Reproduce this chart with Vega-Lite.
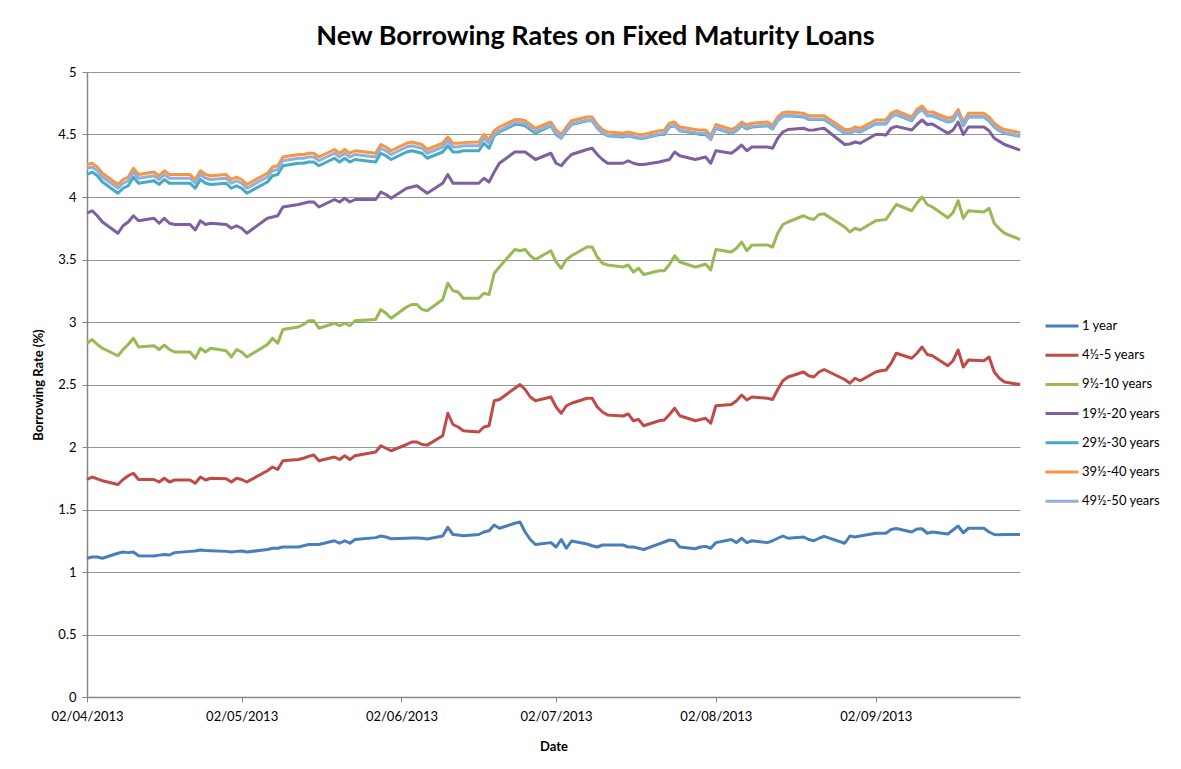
{
"$schema": "https://vega.github.io/schema/vega-lite/v6.json",
"width": 933, "height": 625,
"autosize": {"type": "none"},
"padding": {"left": 87, "top": 72, "right": 161, "bottom": 72},
"background": "white",
"title": {"text": "New Borrowing Rates on Fixed Maturity Loans", "font": "Lato", "fontSize": 27, "fontWeight": "bold", "color": "#000000", "anchor": "middle", "dx": 42, "offset": 15},
"data": {"values": [
{"date":"2013-04-02","1 year":1.11,"4½-5 years":1.74,"9½-10 years":2.83,"19½-20 years":3.87,"29½-30 years":4.18,"39½-40 years":4.26,"49½-50 years":4.23},
{"date":"2013-04-03","1 year":1.12,"4½-5 years":1.76,"9½-10 years":2.86,"19½-20 years":3.89,"29½-30 years":4.20,"39½-40 years":4.27,"49½-50 years":4.24},
{"date":"2013-04-04","1 year":1.12,"4½-5 years":1.745,"9½-10 years":2.82,"19½-20 years":3.85,"29½-30 years":4.17,"39½-40 years":4.24,"49½-50 years":4.21},
{"date":"2013-04-05","1 year":1.11,"4½-5 years":1.73,"9½-10 years":2.79,"19½-20 years":3.80,"29½-30 years":4.12,"39½-40 years":4.19,"49½-50 years":4.16},
{"date":"2013-04-08","1 year":1.15,"4½-5 years":1.70,"9½-10 years":2.73,"19½-20 years":3.71,"29½-30 years":4.03,"39½-40 years":4.10,"49½-50 years":4.07},
{"date":"2013-04-09","1 year":1.16,"4½-5 years":1.74,"9½-10 years":2.78,"19½-20 years":3.77,"29½-30 years":4.07,"39½-40 years":4.14,"49½-50 years":4.11},
{"date":"2013-04-10","1 year":1.155,"4½-5 years":1.77,"9½-10 years":2.82,"19½-20 years":3.80,"29½-30 years":4.09,"39½-40 years":4.16,"49½-50 years":4.13},
{"date":"2013-04-11","1 year":1.16,"4½-5 years":1.79,"9½-10 years":2.87,"19½-20 years":3.85,"29½-30 years":4.16,"39½-40 years":4.23,"49½-50 years":4.20},
{"date":"2013-04-12","1 year":1.13,"4½-5 years":1.74,"9½-10 years":2.80,"19½-20 years":3.81,"29½-30 years":4.11,"39½-40 years":4.18,"49½-50 years":4.15},
{"date":"2013-04-15","1 year":1.128,"4½-5 years":1.74,"9½-10 years":2.81,"19½-20 years":3.83,"29½-30 years":4.13,"39½-40 years":4.20,"49½-50 years":4.17},
{"date":"2013-04-16","1 year":1.135,"4½-5 years":1.72,"9½-10 years":2.78,"19½-20 years":3.79,"29½-30 years":4.10,"39½-40 years":4.17,"49½-50 years":4.14},
{"date":"2013-04-17","1 year":1.14,"4½-5 years":1.75,"9½-10 years":2.815,"19½-20 years":3.83,"29½-30 years":4.14,"39½-40 years":4.21,"49½-50 years":4.18},
{"date":"2013-04-18","1 year":1.136,"4½-5 years":1.72,"9½-10 years":2.78,"19½-20 years":3.79,"29½-30 years":4.11,"39½-40 years":4.18,"49½-50 years":4.15},
{"date":"2013-04-19","1 year":1.155,"4½-5 years":1.736,"9½-10 years":2.76,"19½-20 years":3.78,"29½-30 years":4.11,"39½-40 years":4.18,"49½-50 years":4.15},
{"date":"2013-04-22","1 year":1.165,"4½-5 years":1.736,"9½-10 years":2.76,"19½-20 years":3.78,"29½-30 years":4.11,"39½-40 years":4.18,"49½-50 years":4.15},
{"date":"2013-04-23","1 year":1.168,"4½-5 years":1.71,"9½-10 years":2.71,"19½-20 years":3.736,"29½-30 years":4.07,"39½-40 years":4.14,"49½-50 years":4.11},
{"date":"2013-04-24","1 year":1.176,"4½-5 years":1.76,"9½-10 years":2.79,"19½-20 years":3.81,"29½-30 years":4.14,"39½-40 years":4.21,"49½-50 years":4.18},
{"date":"2013-04-25","1 year":1.172,"4½-5 years":1.736,"9½-10 years":2.76,"19½-20 years":3.78,"29½-30 years":4.11,"39½-40 years":4.18,"49½-50 years":4.15},
{"date":"2013-04-26","1 year":1.17,"4½-5 years":1.75,"9½-10 years":2.79,"19½-20 years":3.79,"29½-30 years":4.10,"39½-40 years":4.17,"49½-50 years":4.14},
{"date":"2013-04-29","1 year":1.165,"4½-5 years":1.746,"9½-10 years":2.77,"19½-20 years":3.78,"29½-30 years":4.11,"39½-40 years":4.18,"49½-50 years":4.15},
{"date":"2013-04-30","1 year":1.16,"4½-5 years":1.72,"9½-10 years":2.72,"19½-20 years":3.75,"29½-30 years":4.07,"39½-40 years":4.14,"49½-50 years":4.11},
{"date":"2013-05-01","1 year":1.165,"4½-5 years":1.75,"9½-10 years":2.78,"19½-20 years":3.77,"29½-30 years":4.09,"39½-40 years":4.16,"49½-50 years":4.13},
{"date":"2013-05-02","1 year":1.168,"4½-5 years":1.74,"9½-10 years":2.76,"19½-20 years":3.75,"29½-30 years":4.07,"39½-40 years":4.14,"49½-50 years":4.11},
{"date":"2013-05-03","1 year":1.16,"4½-5 years":1.72,"9½-10 years":2.72,"19½-20 years":3.71,"29½-30 years":4.03,"39½-40 years":4.10,"49½-50 years":4.07},
{"date":"2013-05-07","1 year":1.18,"4½-5 years":1.81,"9½-10 years":2.82,"19½-20 years":3.83,"29½-30 years":4.12,"39½-40 years":4.19,"49½-50 years":4.16},
{"date":"2013-05-08","1 year":1.19,"4½-5 years":1.84,"9½-10 years":2.87,"19½-20 years":3.84,"29½-30 years":4.17,"39½-40 years":4.24,"49½-50 years":4.21},
{"date":"2013-05-09","1 year":1.19,"4½-5 years":1.82,"9½-10 years":2.83,"19½-20 years":3.85,"29½-30 years":4.18,"39½-40 years":4.25,"49½-50 years":4.22},
{"date":"2013-05-10","1 year":1.20,"4½-5 years":1.89,"9½-10 years":2.94,"19½-20 years":3.92,"29½-30 years":4.25,"39½-40 years":4.32,"49½-50 years":4.29},
{"date":"2013-05-13","1 year":1.20,"4½-5 years":1.90,"9½-10 years":2.96,"19½-20 years":3.94,"29½-30 years":4.27,"39½-40 years":4.34,"49½-50 years":4.31},
{"date":"2013-05-14","1 year":1.21,"4½-5 years":1.91,"9½-10 years":2.98,"19½-20 years":3.95,"29½-30 years":4.27,"39½-40 years":4.34,"49½-50 years":4.31},
{"date":"2013-05-15","1 year":1.22,"4½-5 years":1.925,"9½-10 years":3.01,"19½-20 years":3.96,"29½-30 years":4.28,"39½-40 years":4.35,"49½-50 years":4.32},
{"date":"2013-05-16","1 year":1.22,"4½-5 years":1.936,"9½-10 years":3.01,"19½-20 years":3.96,"29½-30 years":4.28,"39½-40 years":4.35,"49½-50 years":4.32},
{"date":"2013-05-17","1 year":1.22,"4½-5 years":1.89,"9½-10 years":2.95,"19½-20 years":3.92,"29½-30 years":4.25,"39½-40 years":4.32,"49½-50 years":4.29},
{"date":"2013-05-20","1 year":1.25,"4½-5 years":1.92,"9½-10 years":2.99,"19½-20 years":3.98,"29½-30 years":4.31,"39½-40 years":4.38,"49½-50 years":4.35},
{"date":"2013-05-21","1 year":1.23,"4½-5 years":1.90,"9½-10 years":2.97,"19½-20 years":3.96,"29½-30 years":4.28,"39½-40 years":4.35,"49½-50 years":4.32},
{"date":"2013-05-22","1 year":1.25,"4½-5 years":1.93,"9½-10 years":2.99,"19½-20 years":3.99,"29½-30 years":4.31,"39½-40 years":4.38,"49½-50 years":4.35},
{"date":"2013-05-23","1 year":1.23,"4½-5 years":1.90,"9½-10 years":2.97,"19½-20 years":3.96,"29½-30 years":4.28,"39½-40 years":4.35,"49½-50 years":4.32},
{"date":"2013-05-24","1 year":1.26,"4½-5 years":1.93,"9½-10 years":3.01,"19½-20 years":3.98,"29½-30 years":4.30,"39½-40 years":4.37,"49½-50 years":4.34},
{"date":"2013-05-28","1 year":1.275,"4½-5 years":1.96,"9½-10 years":3.02,"19½-20 years":3.98,"29½-30 years":4.28,"39½-40 years":4.35,"49½-50 years":4.32},
{"date":"2013-05-29","1 year":1.288,"4½-5 years":2.01,"9½-10 years":3.10,"19½-20 years":4.04,"29½-30 years":4.35,"39½-40 years":4.42,"49½-50 years":4.39},
{"date":"2013-05-30","1 year":1.28,"4½-5 years":1.99,"9½-10 years":3.07,"19½-20 years":4.02,"29½-30 years":4.33,"39½-40 years":4.40,"49½-50 years":4.37},
{"date":"2013-05-31","1 year":1.266,"4½-5 years":1.97,"9½-10 years":3.03,"19½-20 years":3.99,"29½-30 years":4.30,"39½-40 years":4.37,"49½-50 years":4.34},
{"date":"2013-06-03","1 year":1.27,"4½-5 years":2.02,"9½-10 years":3.12,"19½-20 years":4.07,"29½-30 years":4.36,"39½-40 years":4.43,"49½-50 years":4.40},
{"date":"2013-06-04","1 year":1.272,"4½-5 years":2.04,"9½-10 years":3.14,"19½-20 years":4.08,"29½-30 years":4.37,"39½-40 years":4.44,"49½-50 years":4.41},
{"date":"2013-06-05","1 year":1.272,"4½-5 years":2.04,"9½-10 years":3.14,"19½-20 years":4.09,"29½-30 years":4.36,"39½-40 years":4.43,"49½-50 years":4.40},
{"date":"2013-06-06","1 year":1.27,"4½-5 years":2.02,"9½-10 years":3.10,"19½-20 years":4.06,"29½-30 years":4.35,"39½-40 years":4.42,"49½-50 years":4.39},
{"date":"2013-06-07","1 year":1.264,"4½-5 years":2.015,"9½-10 years":3.09,"19½-20 years":4.03,"29½-30 years":4.31,"39½-40 years":4.38,"49½-50 years":4.35},
{"date":"2013-06-10","1 year":1.288,"4½-5 years":2.09,"9½-10 years":3.18,"19½-20 years":4.11,"29½-30 years":4.36,"39½-40 years":4.43,"49½-50 years":4.40},
{"date":"2013-06-11","1 year":1.357,"4½-5 years":2.27,"9½-10 years":3.31,"19½-20 years":4.18,"29½-30 years":4.41,"39½-40 years":4.48,"49½-50 years":4.45},
{"date":"2013-06-12","1 year":1.30,"4½-5 years":2.18,"9½-10 years":3.25,"19½-20 years":4.11,"29½-30 years":4.36,"39½-40 years":4.43,"49½-50 years":4.40},
{"date":"2013-06-13","1 year":1.296,"4½-5 years":2.16,"9½-10 years":3.24,"19½-20 years":4.11,"29½-30 years":4.36,"39½-40 years":4.43,"49½-50 years":4.40},
{"date":"2013-06-14","1 year":1.29,"4½-5 years":2.13,"9½-10 years":3.19,"19½-20 years":4.11,"29½-30 years":4.37,"39½-40 years":4.435,"49½-50 years":4.41},
{"date":"2013-06-17","1 year":1.30,"4½-5 years":2.12,"9½-10 years":3.19,"19½-20 years":4.11,"29½-30 years":4.37,"39½-40 years":4.44,"49½-50 years":4.41},
{"date":"2013-06-18","1 year":1.32,"4½-5 years":2.16,"9½-10 years":3.23,"19½-20 years":4.15,"29½-30 years":4.43,"39½-40 years":4.50,"49½-50 years":4.47},
{"date":"2013-06-19","1 year":1.33,"4½-5 years":2.17,"9½-10 years":3.22,"19½-20 years":4.12,"29½-30 years":4.39,"39½-40 years":4.46,"49½-50 years":4.43},
{"date":"2013-06-20","1 year":1.376,"4½-5 years":2.37,"9½-10 years":3.39,"19½-20 years":4.20,"29½-30 years":4.49,"39½-40 years":4.53,"49½-50 years":4.50},
{"date":"2013-06-21","1 year":1.35,"4½-5 years":2.38,"9½-10 years":3.44,"19½-20 years":4.27,"29½-30 years":4.52,"39½-40 years":4.56,"49½-50 years":4.53},
{"date":"2013-06-24","1 year":1.39,"4½-5 years":2.47,"9½-10 years":3.58,"19½-20 years":4.36,"29½-30 years":4.58,"39½-40 years":4.62,"49½-50 years":4.595},
{"date":"2013-06-25","1 year":1.40,"4½-5 years":2.50,"9½-10 years":3.57,"19½-20 years":4.36,"29½-30 years":4.58,"39½-40 years":4.62,"49½-50 years":4.595},
{"date":"2013-06-26","1 year":1.32,"4½-5 years":2.46,"9½-10 years":3.58,"19½-20 years":4.36,"29½-30 years":4.57,"39½-40 years":4.61,"49½-50 years":4.585},
{"date":"2013-06-27","1 year":1.26,"4½-5 years":2.40,"9½-10 years":3.53,"19½-20 years":4.33,"29½-30 years":4.54,"39½-40 years":4.58,"49½-50 years":4.555},
{"date":"2013-06-28","1 year":1.22,"4½-5 years":2.37,"9½-10 years":3.50,"19½-20 years":4.30,"29½-30 years":4.51,"39½-40 years":4.55,"49½-50 years":4.525},
{"date":"2013-07-01","1 year":1.235,"4½-5 years":2.40,"9½-10 years":3.57,"19½-20 years":4.35,"29½-30 years":4.568,"39½-40 years":4.60,"49½-50 years":4.575},
{"date":"2013-07-02","1 year":1.20,"4½-5 years":2.32,"9½-10 years":3.48,"19½-20 years":4.27,"29½-30 years":4.50,"39½-40 years":4.536,"49½-50 years":4.51},
{"date":"2013-07-03","1 year":1.26,"4½-5 years":2.27,"9½-10 years":3.43,"19½-20 years":4.25,"29½-30 years":4.47,"39½-40 years":4.50,"49½-50 years":4.475},
{"date":"2013-07-04","1 year":1.19,"4½-5 years":2.33,"9½-10 years":3.50,"19½-20 years":4.30,"29½-30 years":4.53,"39½-40 years":4.56,"49½-50 years":4.535},
{"date":"2013-07-05","1 year":1.248,"4½-5 years":2.35,"9½-10 years":3.53,"19½-20 years":4.34,"29½-30 years":4.58,"39½-40 years":4.61,"49½-50 years":4.585},
{"date":"2013-07-08","1 year":1.224,"4½-5 years":2.39,"9½-10 years":3.60,"19½-20 years":4.38,"29½-30 years":4.61,"39½-40 years":4.64,"49½-50 years":4.615},
{"date":"2013-07-09","1 year":1.21,"4½-5 years":2.39,"9½-10 years":3.60,"19½-20 years":4.39,"29½-30 years":4.61,"39½-40 years":4.64,"49½-50 years":4.615},
{"date":"2013-07-10","1 year":1.20,"4½-5 years":2.32,"9½-10 years":3.52,"19½-20 years":4.34,"29½-30 years":4.55,"39½-40 years":4.58,"49½-50 years":4.555},
{"date":"2013-07-11","1 year":1.216,"4½-5 years":2.28,"9½-10 years":3.47,"19½-20 years":4.30,"29½-30 years":4.51,"39½-40 years":4.54,"49½-50 years":4.515},
{"date":"2013-07-12","1 year":1.216,"4½-5 years":2.256,"9½-10 years":3.456,"19½-20 years":4.27,"29½-30 years":4.49,"39½-40 years":4.52,"49½-50 years":4.495},
{"date":"2013-07-15","1 year":1.216,"4½-5 years":2.248,"9½-10 years":3.44,"19½-20 years":4.27,"29½-30 years":4.48,"39½-40 years":4.51,"49½-50 years":4.485},
{"date":"2013-07-16","1 year":1.20,"4½-5 years":2.264,"9½-10 years":3.456,"19½-20 years":4.29,"29½-30 years":4.49,"39½-40 years":4.52,"49½-50 years":4.495},
{"date":"2013-07-17","1 year":1.20,"4½-5 years":2.21,"9½-10 years":3.40,"19½-20 years":4.27,"29½-30 years":4.48,"39½-40 years":4.51,"49½-50 years":4.485},
{"date":"2013-07-18","1 year":1.19,"4½-5 years":2.22,"9½-10 years":3.43,"19½-20 years":4.26,"29½-30 years":4.47,"39½-40 years":4.50,"49½-50 years":4.475},
{"date":"2013-07-19","1 year":1.18,"4½-5 years":2.17,"9½-10 years":3.38,"19½-20 years":4.26,"29½-30 years":4.47,"39½-40 years":4.50,"49½-50 years":4.475},
{"date":"2013-07-22","1 year":1.225,"4½-5 years":2.21,"9½-10 years":3.41,"19½-20 years":4.28,"29½-30 years":4.50,"39½-40 years":4.53,"49½-50 years":4.505},
{"date":"2013-07-23","1 year":1.24,"4½-5 years":2.216,"9½-10 years":3.41,"19½-20 years":4.29,"29½-30 years":4.50,"39½-40 years":4.535,"49½-50 years":4.51},
{"date":"2013-07-24","1 year":1.256,"4½-5 years":2.26,"9½-10 years":3.46,"19½-20 years":4.30,"29½-30 years":4.56,"39½-40 years":4.59,"49½-50 years":4.565},
{"date":"2013-07-25","1 year":1.25,"4½-5 years":2.31,"9½-10 years":3.53,"19½-20 years":4.36,"29½-30 years":4.57,"39½-40 years":4.60,"49½-50 years":4.575},
{"date":"2013-07-26","1 year":1.20,"4½-5 years":2.25,"9½-10 years":3.48,"19½-20 years":4.33,"29½-30 years":4.53,"39½-40 years":4.56,"49½-50 years":4.535},
{"date":"2013-07-29","1 year":1.186,"4½-5 years":2.21,"9½-10 years":3.44,"19½-20 years":4.30,"29½-30 years":4.51,"39½-40 years":4.54,"49½-50 years":4.515},
{"date":"2013-07-30","1 year":1.20,"4½-5 years":2.22,"9½-10 years":3.45,"19½-20 years":4.31,"29½-30 years":4.50,"39½-40 years":4.535,"49½-50 years":4.51},
{"date":"2013-07-31","1 year":1.205,"4½-5 years":2.23,"9½-10 years":3.464,"19½-20 years":4.32,"29½-30 years":4.50,"39½-40 years":4.536,"49½-50 years":4.51},
{"date":"2013-08-01","1 year":1.19,"4½-5 years":2.19,"9½-10 years":3.416,"19½-20 years":4.27,"29½-30 years":4.46,"39½-40 years":4.49,"49½-50 years":4.465},
{"date":"2013-08-02","1 year":1.235,"4½-5 years":2.33,"9½-10 years":3.58,"19½-20 years":4.37,"29½-30 years":4.55,"39½-40 years":4.58,"49½-50 years":4.555},
{"date":"2013-08-05","1 year":1.26,"4½-5 years":2.34,"9½-10 years":3.56,"19½-20 years":4.35,"29½-30 years":4.51,"39½-40 years":4.54,"49½-50 years":4.515},
{"date":"2013-08-06","1 year":1.235,"4½-5 years":2.37,"9½-10 years":3.59,"19½-20 years":4.38,"29½-30 years":4.53,"39½-40 years":4.56,"49½-50 years":4.535},
{"date":"2013-08-07","1 year":1.27,"4½-5 years":2.416,"9½-10 years":3.64,"19½-20 years":4.416,"29½-30 years":4.57,"39½-40 years":4.60,"49½-50 years":4.575},
{"date":"2013-08-08","1 year":1.235,"4½-5 years":2.376,"9½-10 years":3.57,"19½-20 years":4.37,"29½-30 years":4.545,"39½-40 years":4.576,"49½-50 years":4.55},
{"date":"2013-08-09","1 year":1.25,"4½-5 years":2.40,"9½-10 years":3.615,"19½-20 years":4.40,"29½-30 years":4.56,"39½-40 years":4.59,"49½-50 years":4.565},
{"date":"2013-08-12","1 year":1.235,"4½-5 years":2.39,"9½-10 years":3.616,"19½-20 years":4.40,"29½-30 years":4.57,"39½-40 years":4.60,"49½-50 years":4.575},
{"date":"2013-08-13","1 year":1.25,"4½-5 years":2.38,"9½-10 years":3.60,"19½-20 years":4.39,"29½-30 years":4.545,"39½-40 years":4.576,"49½-50 years":4.55},
{"date":"2013-08-14","1 year":1.27,"4½-5 years":2.46,"9½-10 years":3.71,"19½-20 years":4.47,"29½-30 years":4.61,"39½-40 years":4.64,"49½-50 years":4.615},
{"date":"2013-08-15","1 year":1.288,"4½-5 years":2.53,"9½-10 years":3.78,"19½-20 years":4.52,"29½-30 years":4.645,"39½-40 years":4.675,"49½-50 years":4.65},
{"date":"2013-08-16","1 year":1.27,"4½-5 years":2.56,"9½-10 years":3.80,"19½-20 years":4.54,"29½-30 years":4.65,"39½-40 years":4.68,"49½-50 years":4.655},
{"date":"2013-08-19","1 year":1.28,"4½-5 years":2.60,"9½-10 years":3.85,"19½-20 years":4.55,"29½-30 years":4.64,"39½-40 years":4.67,"49½-50 years":4.645},
{"date":"2013-08-20","1 year":1.26,"4½-5 years":2.57,"9½-10 years":3.83,"19½-20 years":4.535,"29½-30 years":4.62,"39½-40 years":4.65,"49½-50 years":4.625},
{"date":"2013-08-21","1 year":1.25,"4½-5 years":2.56,"9½-10 years":3.82,"19½-20 years":4.536,"29½-30 years":4.62,"39½-40 years":4.65,"49½-50 years":4.625},
{"date":"2013-08-22","1 year":1.27,"4½-5 years":2.60,"9½-10 years":3.86,"19½-20 years":4.545,"29½-30 years":4.62,"39½-40 years":4.65,"49½-50 years":4.625},
{"date":"2013-08-23","1 year":1.285,"4½-5 years":2.62,"9½-10 years":3.865,"19½-20 years":4.55,"29½-30 years":4.62,"39½-40 years":4.65,"49½-50 years":4.625},
{"date":"2013-08-27","1 year":1.23,"4½-5 years":2.54,"9½-10 years":3.76,"19½-20 years":4.42,"29½-30 years":4.51,"39½-40 years":4.54,"49½-50 years":4.515},
{"date":"2013-08-28","1 year":1.288,"4½-5 years":2.51,"9½-10 years":3.72,"19½-20 years":4.424,"29½-30 years":4.51,"39½-40 years":4.54,"49½-50 years":4.515},
{"date":"2013-08-29","1 year":1.28,"4½-5 years":2.55,"9½-10 years":3.75,"19½-20 years":4.44,"29½-30 years":4.53,"39½-40 years":4.56,"49½-50 years":4.535},
{"date":"2013-08-30","1 year":1.288,"4½-5 years":2.53,"9½-10 years":3.736,"19½-20 years":4.43,"29½-30 years":4.52,"39½-40 years":4.55,"49½-50 years":4.525},
{"date":"2013-09-02","1 year":1.31,"4½-5 years":2.60,"9½-10 years":3.81,"19½-20 years":4.50,"29½-30 years":4.585,"39½-40 years":4.616,"49½-50 years":4.59},
{"date":"2013-09-03","1 year":1.31,"4½-5 years":2.61,"9½-10 years":3.815,"19½-20 years":4.50,"29½-30 years":4.585,"39½-40 years":4.616,"49½-50 years":4.59},
{"date":"2013-09-04","1 year":1.31,"4½-5 years":2.616,"9½-10 years":3.82,"19½-20 years":4.496,"29½-30 years":4.585,"39½-40 years":4.616,"49½-50 years":4.59},
{"date":"2013-09-05","1 year":1.34,"4½-5 years":2.67,"9½-10 years":3.88,"19½-20 years":4.55,"29½-30 years":4.64,"39½-40 years":4.67,"49½-50 years":4.645},
{"date":"2013-09-06","1 year":1.348,"4½-5 years":2.75,"9½-10 years":3.94,"19½-20 years":4.565,"29½-30 years":4.66,"39½-40 years":4.69,"49½-50 years":4.665},
{"date":"2013-09-09","1 year":1.32,"4½-5 years":2.71,"9½-10 years":3.89,"19½-20 years":4.536,"29½-30 years":4.61,"39½-40 years":4.64,"49½-50 years":4.615},
{"date":"2013-09-10","1 year":1.344,"4½-5 years":2.75,"9½-10 years":3.95,"19½-20 years":4.58,"29½-30 years":4.67,"39½-40 years":4.70,"49½-50 years":4.675},
{"date":"2013-09-11","1 year":1.346,"4½-5 years":2.80,"9½-10 years":4.00,"19½-20 years":4.616,"29½-30 years":4.70,"39½-40 years":4.728,"49½-50 years":4.70},
{"date":"2013-09-12","1 year":1.31,"4½-5 years":2.74,"9½-10 years":3.94,"19½-20 years":4.58,"29½-30 years":4.65,"39½-40 years":4.68,"49½-50 years":4.655},
{"date":"2013-09-13","1 year":1.32,"4½-5 years":2.73,"9½-10 years":3.92,"19½-20 years":4.584,"29½-30 years":4.65,"39½-40 years":4.68,"49½-50 years":4.655},
{"date":"2013-09-16","1 year":1.304,"4½-5 years":2.65,"9½-10 years":3.834,"19½-20 years":4.51,"29½-30 years":4.60,"39½-40 years":4.63,"49½-50 years":4.605},
{"date":"2013-09-17","1 year":1.336,"4½-5 years":2.69,"9½-10 years":3.875,"19½-20 years":4.535,"29½-30 years":4.61,"39½-40 years":4.64,"49½-50 years":4.615},
{"date":"2013-09-18","1 year":1.368,"4½-5 years":2.776,"9½-10 years":3.97,"19½-20 years":4.60,"29½-30 years":4.69,"39½-40 years":4.70,"49½-50 years":4.675},
{"date":"2013-09-19","1 year":1.314,"4½-5 years":2.64,"9½-10 years":3.83,"19½-20 years":4.50,"29½-30 years":4.57,"39½-40 years":4.60,"49½-50 years":4.575},
{"date":"2013-09-20","1 year":1.35,"4½-5 years":2.696,"9½-10 years":3.89,"19½-20 years":4.56,"29½-30 years":4.64,"39½-40 years":4.67,"49½-50 years":4.645},
{"date":"2013-09-23","1 year":1.35,"4½-5 years":2.69,"9½-10 years":3.88,"19½-20 years":4.56,"29½-30 years":4.64,"39½-40 years":4.67,"49½-50 years":4.645},
{"date":"2013-09-24","1 year":1.32,"4½-5 years":2.72,"9½-10 years":3.91,"19½-20 years":4.53,"29½-30 years":4.61,"39½-40 years":4.64,"49½-50 years":4.615},
{"date":"2013-09-25","1 year":1.30,"4½-5 years":2.60,"9½-10 years":3.79,"19½-20 years":4.47,"29½-30 years":4.56,"39½-40 years":4.59,"49½-50 years":4.565},
{"date":"2013-09-26","1 year":1.298,"4½-5 years":2.55,"9½-10 years":3.745,"19½-20 years":4.445,"29½-30 years":4.53,"39½-40 years":4.56,"49½-50 years":4.535},
{"date":"2013-09-27","1 year":1.30,"4½-5 years":2.52,"9½-10 years":3.71,"19½-20 years":4.42,"29½-30 years":4.51,"39½-40 years":4.54,"49½-50 years":4.515},
{"date":"2013-09-30","1 year":1.30,"4½-5 years":2.50,"9½-10 years":3.66,"19½-20 years":4.375,"29½-30 years":4.485,"39½-40 years":4.515,"49½-50 years":4.49}
]},
"transform": [{"fold": ["1 year","4½-5 years","9½-10 years","19½-20 years","29½-30 years","39½-40 years","49½-50 years"], "as": ["series","rate"]}],
"mark": {"type": "line", "strokeWidth": 3, "strokeJoin": "round"},
"encoding": {
  "x": {"field": "date", "type": "temporal",
    "scale": {"type": "utc", "domain": [{"year":2013,"month":4,"date":2,"utc":true},{"year":2013,"month":9,"date":30,"utc":true}]},
    "axis": {"values": [{"year":2013,"month":4,"date":2,"utc":true},{"year":2013,"month":5,"date":2,"utc":true},{"year":2013,"month":6,"date":2,"utc":true},{"year":2013,"month":7,"date":2,"utc":true},{"year":2013,"month":8,"date":2,"utc":true},{"year":2013,"month":9,"date":2,"utc":true}],
      "format": "%d/%m/%Y", "grid": false, "domainColor": "#868686", "domainWidth": 1.5, "tickColor": "#868686", "tickSize": 5,
      "labelFont": "Lato", "labelFontSize": 13, "labelColor": "#000000", "labelPadding": 8, "labelFlush": false, "labelOverlap": false,
      "title": "Date", "titleFont": "Lato", "titleFontSize": 13, "titleFontWeight": "bold", "titleColor": "#000000", "titlePadding": 17}},
  "y": {"field": "rate", "type": "quantitative",
    "scale": {"domain": [0, 5], "nice": false, "zero": true},
    "axis": {"values": [0,0.5,1,1.5,2,2.5,3,3.5,4,4.5,5], "format": ".1~f",
      "gridColor": "#969696", "gridWidth": 1, "domainColor": "#868686", "domainWidth": 1.5, "tickColor": "#868686", "tickSize": 5,
      "labelFont": "Lato", "labelFontSize": 13, "labelColor": "#000000", "labelPadding": 6,
      "title": "Borrowing Rate (%)", "titleFont": "Lato", "titleFontSize": 13, "titleFontWeight": "bold", "titleColor": "#000000", "titleX": -49, "titleBaseline": "middle"}},
  "color": {"field": "series", "type": "nominal",
    "scale": {"domain": ["1 year","4½-5 years","9½-10 years","19½-20 years","29½-30 years","39½-40 years","49½-50 years"],
              "range": ["#4A7EBB","#BE4B48","#98B954","#7D60A0","#46AAC5","#F69544","#94AEDA"]},
    "legend": {"title": null, "orient": "none", "legendX": 965, "legendY": 244, "padding": 0,
      "symbolType": "M-2,0H2", "symbolSize": 272, "symbolStrokeWidth": 3,
      "labelFont": "Lato", "labelFontSize": 13, "labelColor": "#000000", "labelOffset": 10, "rowPadding": 12.2}}
},
"config": {"view": {"stroke": null}, "font": "Lato"}
}
